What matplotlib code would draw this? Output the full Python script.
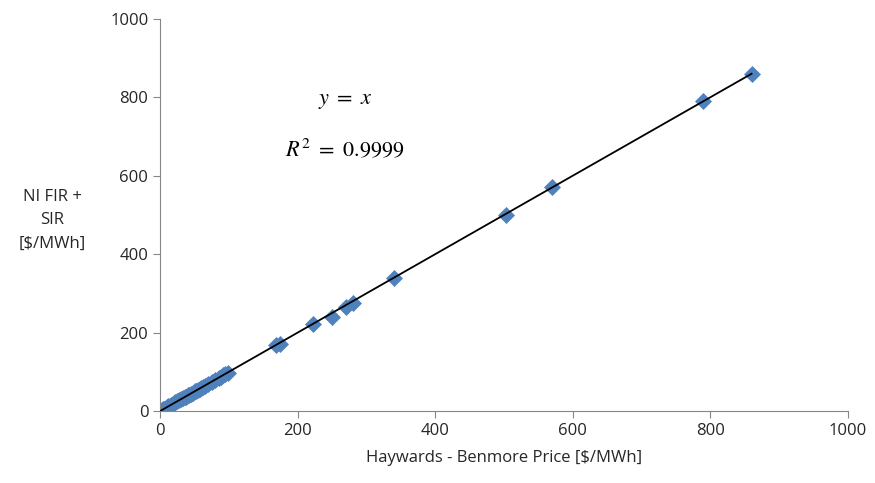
import matplotlib.pyplot as plt
import numpy as np

# price pairs
hb_price = [2, 4, 6, 8, 10, 12, 14, 16, 18, 20, 22, 25, 28, 30, 33, 36, 38, 40, 42, 45,
            48, 50, 52, 55, 58, 60, 62, 65, 70, 75, 80, 85, 88, 92, 95, 98,
            168, 175, 222, 250, 270, 280, 340, 503, 570, 790, 860]
fir_sir = [2, 4, 6, 8, 10, 12, 14, 15, 18, 20, 22, 25, 27, 30, 33, 36, 37, 40, 42, 44,
           47, 50, 51, 54, 57, 60, 61, 64, 70, 74, 79, 84, 87, 91, 94, 97,
           168, 172, 222, 240, 266, 276, 340, 500, 570, 790, 860]

plt.rcParams['font.family'] = ['Open Sans', 'DejaVu Sans']
plt.rcParams['mathtext.fontset'] = 'stix'

fig = plt.figure(figsize=(8.75, 4.83), dpi=100)
ax = fig.add_axes([0.183, 0.149, 0.786, 0.812])

ax.scatter(hb_price, fir_sir, marker='D', s=75, color='#4F81BD', zorder=2, linewidths=0)
xs = np.array([0, max(hb_price)])
ax.plot(xs, xs, color='black', lw=1.3, zorder=3)

ax.set_xlim(0, 1000)
ax.set_ylim(0, 1000)
ax.set_xticks(range(0, 1001, 200))
ax.set_yticks(range(0, 1001, 200))
for s in ['top', 'right']:
    ax.spines[s].set_visible(False)
for s in ['left', 'bottom']:
    ax.spines[s].set_color('#868686')
ax.tick_params(direction='out', color='#868686', length=5, labelsize=12, labelcolor='#262626')

ax.set_xlabel('Haywards - Benmore Price [$/MWh]', fontsize=12, color='#262626', labelpad=8)
ax.set_ylabel('NI FIR +\nSIR\n[$/MWh]', fontsize=12, color='#262626', rotation=0,
              ha='center', va='center', linespacing=1.6)
ax.yaxis.set_label_coords(-0.157, 0.486)

ax.text(269, 793, r'$y\ =\ x$', fontsize=16, ha='center', va='center')
ax.text(269, 666, r'$R^2\ =\ 0.9999$', fontsize=16, ha='center', va='center')

fig.savefig('out.png', dpi=100)
